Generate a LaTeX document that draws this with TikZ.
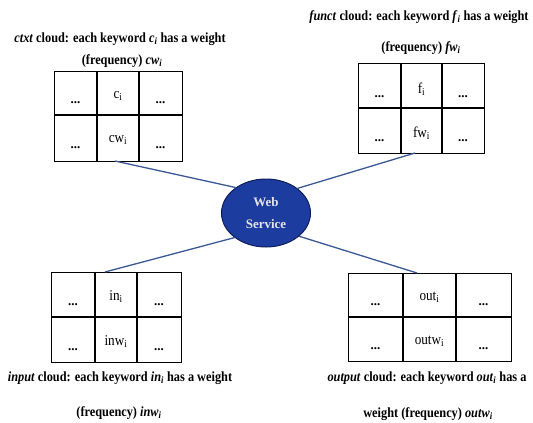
\documentclass[tikz,border=0pt]{standalone}
\usepackage{fontspec}
\setmainfont{Liberation Serif}
\newfontfamily\capfont[FakeStretch=0.88]{Liberation Serif}
\usetikzlibrary{shapes.geometric}
\definecolor{linkblue}{RGB}{58,88,150}
\definecolor{wsblue}{RGB}{28,60,160}
\definecolor{wsborder}{RGB}{15,30,90}
\definecolor{wstext}{RGB}{228,228,236}
\begin{document}
\begin{tikzpicture}[x=1pt,y=-1pt,
  gridline/.style={draw=black, line width=1.1pt},
  tablebox/.style={draw=black, line width=1.1pt, inner sep=0pt, anchor=north west},
  link/.style={draw=linkblue, line width=1.3pt},
  captext/.style={font=\capfont\bfseries\fontsize{14}{16}\selectfont, inner sep=0pt, anchor=base},
  dotcell/.style={font=\bfseries\fontsize{13}{15}\selectfont, inner sep=0pt, anchor=base},
  labcell/.style={font=\capfont\fontsize{15}{17}\selectfont, inner sep=0pt, anchor=base},
  wsnode/.style={ellipse, draw=wsborder, fill=wsblue, line width=1pt, minimum width=89pt, minimum height=68pt, text=wstext, font=\bfseries\fontsize{13}{22}\selectfont, align=center, inner sep=0pt}]
\useasboundingbox (0,0) rectangle (533,423);

% Web service
\node[wsnode] (ws) at (266,213) {Web\\[0pt]Service};

% ctxt table (top-left)
\node[tablebox, minimum width=128pt, minimum height=90pt] (ctxt) at (54,71) {};
\draw[gridline] (97,71) -- (97,161) (139,71) -- (139,161) (54,115) -- (182,115);
\node[dotcell] (c11) at (75.5,103) {...};
\node[labcell]  (c12) at (118,98) {c\textsubscript{i}};
\node[dotcell] (c13) at (160.5,103) {...};
\node[dotcell] (c21) at (75.5,148) {...};
\node[labcell]  (c22) at (118,142) {cw\textsubscript{i}};
\node[dotcell] (c23) at (160.5,148) {...};
\node[captext] (ctxtcapa) at (120,42) {\textit{ctxt} cloud: each keyword \textit{c}\textsubscript{\textit{i}} has a weight};
\node[captext] (ctxtcapb) at (122,64) {(frequency) \textit{cw}\textsubscript{\textit{i}}};

% funct table (top-right)
\node[tablebox, minimum width=126pt, minimum height=90pt] (funct) at (358,63) {};
\draw[gridline] (401,63) -- (401,153) (442,63) -- (442,153) (358,108) -- (484,108);
\node[dotcell] (f11) at (379.5,97) {...};
\node[labcell]  (f12) at (421.5,93) {f\textsubscript{i}};
\node[dotcell] (f13) at (463,97) {...};
\node[dotcell] (f21) at (379.5,141) {...};
\node[labcell]  (f22) at (421.5,137) {fw\textsubscript{i}};
\node[dotcell] (f23) at (463,141) {...};
\node[captext] (functcapa) at (419,20) {\textit{funct} cloud: each keyword \textit{f}\textsubscript{\textit{i}} has a weight};
\node[captext] (functcapb) at (421,51) {(frequency) \textit{fw}\textsubscript{\textit{i}}};

% input table (bottom-left)
\node[tablebox, minimum width=130pt, minimum height=90pt] (input) at (51,272) {};
\draw[gridline] (95,272) -- (95,362) (137,272) -- (137,362) (51,317) -- (181,317);
\node[dotcell] (i11) at (73,305) {...};
\node[labcell]  (i12) at (116,300) {in\textsubscript{i}};
\node[dotcell] (i13) at (159,305) {...};
\node[dotcell] (i21) at (73,350) {...};
\node[labcell]  (i22) at (116,345) {inw\textsubscript{i}};
\node[dotcell] (i23) at (159,350) {...};
\node[captext] (inputcapa) at (120,381) {\textit{input} cloud: each keyword \textit{in}\textsubscript{\textit{i}} has a weight};
\node[captext] (inputcapb) at (119,416) {(frequency) \textit{inw}\textsubscript{\textit{i}}};

% output table (bottom-right)
\node[tablebox, minimum width=163pt, minimum height=88pt] (output) at (348,273) {};
\draw[gridline] (403,273) -- (403,361) (456,273) -- (456,361) (348,317) -- (511,317);
\node[dotcell] (o11) at (375.5,305) {...};
\node[labcell]  (o12) at (429.5,300) {out\textsubscript{i}};
\node[dotcell] (o13) at (483.5,305) {...};
\node[dotcell] (o21) at (375.5,349) {...};
\node[labcell]  (o22) at (429.5,344) {outw\textsubscript{i}};
\node[dotcell] (o23) at (483.5,349) {...};
\node[captext] (outputcapa) at (427,381) {\textit{output} cloud: each keyword \textit{out}\textsubscript{\textit{i}} has a};
\node[captext] (outputcapb) at (428,417) {weight (frequency) \textit{outw}\textsubscript{\textit{i}}};

% links
\coordinate (ctxtlink) at (115,161);
\coordinate (functlink) at (415,153);
\coordinate (inputlink) at (105,272);
\coordinate (outputlink) at (417,273);
\draw[link] (ctxtlink) -- (ws.140);
\draw[link] (functlink) -- (ws.38);
\draw[link] (inputlink) -- (ws.218);
\draw[link] (outputlink) -- (ws.325);
\end{tikzpicture}
\end{document}
